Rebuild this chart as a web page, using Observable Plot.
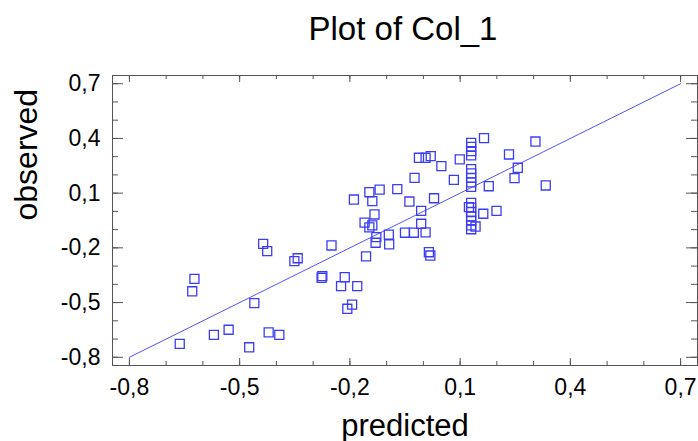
<!DOCTYPE html>
<html>
<head>
<meta charset="utf-8">
<script src="https://cdn.jsdelivr.net/npm/d3@7"></script>
<script src="https://cdn.jsdelivr.net/npm/@observablehq/plot@0.6"></script>
<style>
  html, body { margin: 0; padding: 0; background: #fff; }
  #wrap { width: 698px; height: 441px; overflow: hidden; font-family: "Liberation Sans", Arial, sans-serif; }
  #title { height: 38px; padding-top: 12px; padding-left: 108px; line-height: 33px; font-size: 33px; text-align: center; color: #000; white-space: nowrap; }
  svg { display: block; }
</style>
</head>
<body>
<div id="wrap">
  <div id="title">Plot of Col_1</div>
  <div id="chart"></div>
</div>
<script>
const titleText = "Plot of Col_1";
const xLabel = "predicted";
const yLabel = "observed";

const predicted = [
  -0.663, -0.623, -0.629, -0.570, -0.530, -0.460, -0.474, -0.436, -0.425, -0.421, -0.392,
  -0.342, -0.351, -0.275, -0.277, -0.250, -0.214, -0.224, -0.180, -0.194, -0.207, -0.156,
  -0.189, -0.147, -0.119, -0.071, -0.139, -0.038, -0.006, -0.133, -0.160, -0.139, -0.006,
  -0.147, -0.128, -0.130, -0.094, -0.093, -0.050, -0.026, 0.006, 0.015, 0.019, -0.024,
  -0.012, 0.006, 0.020, 0.049, 0.083, 0.029, 0.099,
  0.130, 0.130, 0.130, 0.130, 0.130, 0.130, 0.130, 0.130, 0.130, 0.130, 0.130, 0.130, 0.130, 0.130, 0.130, 0.130,
  0.124, 0.142, 0.165, 0.163, 0.199, 0.233, 0.257, 0.248, 0.178, 0.305, 0.333
];
const observed = [
  -0.726, -0.370, -0.438, -0.677, -0.649, -0.503, -0.745, -0.178, -0.218, -0.663, -0.677,
  -0.257, -0.273, -0.355, -0.364, -0.187, -0.361, -0.410, -0.410, -0.511, -0.534, -0.247,
  0.065, 0.105, 0.119, 0.122, 0.056, 0.054, 0.003, -0.017, -0.062, -0.077, -0.068,
  -0.088, -0.141, -0.172, -0.128, -0.181, -0.117, -0.117, -0.115, -0.224, -0.242, 0.184,
  0.294, 0.294, 0.303, 0.248, 0.173, 0.072, 0.285,
  0.376, 0.354, 0.330, 0.307, 0.232, 0.208, 0.184, 0.159, 0.135, 0.047, 0.021, -0.004, -0.028, -0.051, -0.077, -0.098,
  0.023, -0.083, 0.402, -0.013, 0.003, 0.312, 0.239, 0.182, 0.138, 0.383, 0.142
];

const fitX = [-0.8, 0.7];
const fitY = [-0.8, 0.7];

const majorTicks = [-0.8, -0.5, -0.2, 0.1, 0.4, 0.7];
const minorTicks = [-0.8, -0.7, -0.6, -0.5, -0.4, -0.3, -0.2, -0.1, 0.0, 0.1, 0.2, 0.3, 0.4, 0.5, 0.6, 0.7];

const points = predicted.map((p, i) => ({p, o: observed[i]}));
const fitLine = fitX.map((x, i) => ({x, y: fitY[i]}));
const fmt = d => d.toFixed(1).replace(".", ",");

const W = 698, H = 391, mT = 25, mB = 76, mL = 112, mR = 1;
const pw = W - mL - mR, ph = H - mT - mB;
const axisColor = "#555";
const blue = "#3c3cf5";

const chart = Plot.plot({
  width: W, height: H,
  marginTop: mT, marginBottom: mB, marginLeft: mL, marginRight: mR,
  style: {fontFamily: "'Liberation Sans', Arial, sans-serif", fontSize: "23px", color: "#000", background: "#fff", overflow: "visible"},
  x: {domain: [-0.846, 0.746], ticks: majorTicks, tickSize: 0, tickPadding: 13, tickFormat: fmt, label: null},
  y: {domain: [-0.845, 0.745], ticks: majorTicks, tickSize: 0, tickPadding: 12, tickFormat: fmt, label: null},
  marks: [
    Plot.line(fitLine, {x: "x", y: "y", stroke: "#5252ff", strokeWidth: 1}),
    Plot.dot(points, {x: "p", y: "o", symbol: "square", r: 5.1, stroke: blue, strokeWidth: 1.3, fill: "none"}),
    Plot.tickX(minorTicks, {x: d => d, insetTop: ph - 4, stroke: axisColor}),
    Plot.tickX(majorTicks, {x: d => d, insetTop: ph - 7, stroke: axisColor}),
    Plot.tickX(minorTicks, {x: d => d, insetBottom: ph - 4, stroke: axisColor}),
    Plot.tickX(majorTicks, {x: d => d, insetBottom: ph - 7, stroke: axisColor}),
    Plot.tickY(minorTicks, {y: d => d, insetRight: pw - 6, stroke: axisColor}),
    Plot.tickY(majorTicks, {y: d => d, insetRight: pw - 11, stroke: axisColor}),
    Plot.tickY(minorTicks, {y: d => d, insetLeft: pw - 6, stroke: axisColor}),
    Plot.tickY(majorTicks, {y: d => d, insetLeft: pw - 11, stroke: axisColor}),
    Plot.frame({stroke: axisColor}),
    Plot.text([xLabel], {text: d => d, frameAnchor: "bottom", dy: 70, fontSize: 31, fill: "#000"}),
    Plot.text([yLabel], {text: d => d, frameAnchor: "left", dx: -86, rotate: -90, fontSize: 32, fill: "#000"})
  ]
});
document.getElementById("chart").appendChild(chart);
</script>
</body>
</html>
